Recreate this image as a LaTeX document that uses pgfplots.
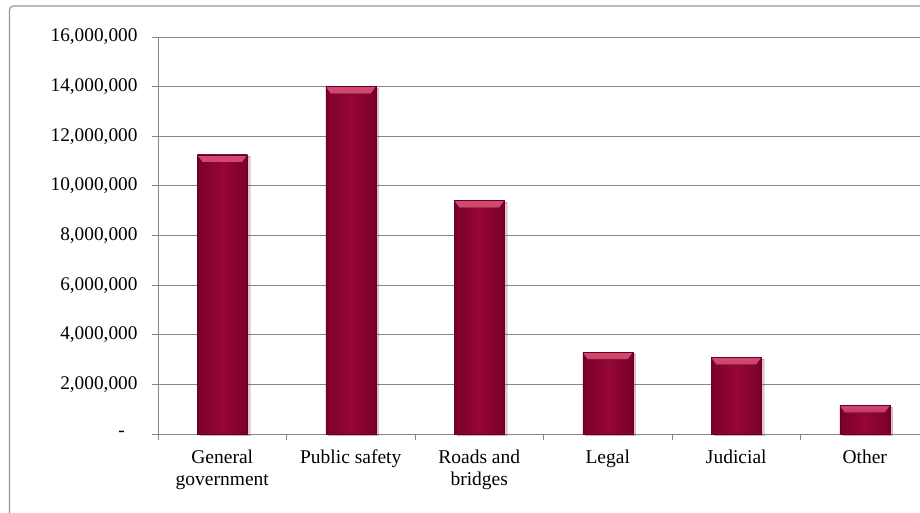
\documentclass[border=0pt]{standalone}
\usepackage{fontspec}
\setmainfont{Liberation Serif}
\usepackage{pgfplots}
\pgfplotsset{compat=1.18}
\usetikzlibrary{shadows}
\definecolor{barfill}{RGB}{150,6,56}
\definecolor{bardark}{RGB}{122,0,40}
\definecolor{barlight}{RGB}{210,72,112}
\definecolor{baredge}{RGB}{105,0,34}
\definecolor{gridgray}{RGB}{134,134,134}
\definecolor{framegray}{RGB}{150,150,150}

% one bevelled bar; each category is its own plot so the bevel is drawn per bar
\pgfplotsset{
  bevelbar/.style={
    ybar, bar width=50pt, bar shift=0pt, draw=baredge, line width=0.5pt,
    left color=bardark, right color=bardark, middle color=barfill,
    drop shadow={shadow xshift=2.5pt, shadow yshift=-1.5pt, opacity=0.15},
    path picture={
      \fill[path picture={}, draw=none, top color=barlight, bottom color=barfill]
        (path picture bounding box.north west) --
        (path picture bounding box.north east) --
        ([xshift=-5pt,yshift=-7pt]path picture bounding box.north east) --
        ([xshift=5pt,yshift=-7pt]path picture bounding box.north west) -- cycle;
    },
  },
}

\begin{document}
\begin{tikzpicture}[x=1pt,y=1pt]
\path[use as bounding box] (0,0) rectangle (920,512);
\clip (0,0) rectangle (920,512);
% outer chart frame
\draw[framegray, line width=1.2pt, rounded corners=4pt] (9.5,-20) rectangle (945,506);
\begin{axis}[
  at={(158pt,78pt)}, anchor=south west,
  scale only axis, width=771pt, height=397pt,
  xmin=-0.5, xmax=5.5, ymin=0, ymax=16000000,
  axis x line*=bottom, axis y line*=left,
  axis line style={gridgray, line width=0.9pt},
  ymajorgrids, major grid style={gridgray, line width=0.9pt},
  tick align=outside, major tick length=6pt, minor tick length=6pt,
  major x tick style={draw=none},
  minor x tick style={gridgray, line width=0.9pt},
  major y tick style={gridgray, line width=0.9pt},
  xtick={0,1,2,3,4,5},
  minor xtick={-0.5,0.5,1.5,2.5,3.5,4.5,5.5},
  xticklabels={{General\\government},{Public safety},{Roads and\\bridges},{Legal},{Judicial},{Other}},
  xticklabel style={align=center, yshift=-6pt, font=\fontsize{19.5}{22}\selectfont},
  ytick={0,2000000,4000000,6000000,8000000,10000000,12000000,14000000,16000000},
  yticklabels={{\makebox[19pt][l]{-}},{2,000,000},{4,000,000},{6,000,000},{8,000,000},{10,000,000},{12,000,000},{14,000,000},{16,000,000}},
  yticklabel style={xshift=-11pt, font=\fontsize{19.3}{22}\selectfont},
  scaled y ticks=false,
  clip=false,
]
\addplot[bevelbar] coordinates {(0,11250000)};
\addplot[bevelbar] coordinates {(1,14000000)};
\addplot[bevelbar] coordinates {(2,9410000)};
\addplot[bevelbar] coordinates {(3,3290000)};
\addplot[bevelbar] coordinates {(4,3080000)};
\addplot[bevelbar] coordinates {(5,1140000)};
\end{axis}
\end{tikzpicture}
\end{document}
